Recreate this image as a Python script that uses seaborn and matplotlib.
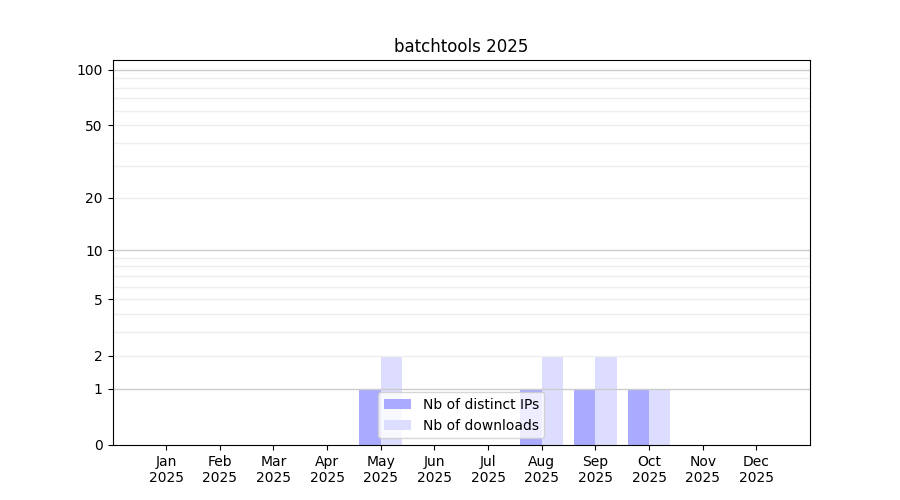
import numpy as np
import pandas as pd
import matplotlib
matplotlib.use("Agg")
import matplotlib.pyplot as plt
from matplotlib.ticker import NullLocator
import seaborn as sns

months = ['Jan', 'Feb', 'Mar', 'Apr', 'May', 'Jun', 'Jul', 'Aug', 'Sep', 'Oct', 'Nov', 'Dec']
year = '2025'
distinct_ips = [0, 0, 0, 0, 1, 0, 0, 1, 1, 1, 0, 0]
downloads = [0, 0, 0, 0, 2, 0, 0, 2, 2, 1, 0, 0]
y_ticks = [0, 1, 2, 5, 10, 20, 50, 100]

labels = [m + '\n' + year for m in months]
df = pd.DataFrame({
    'month': labels * 2,
    'count': distinct_ips + downloads,
    'kind': ['Nb of distinct IPs'] * 12 + ['Nb of downloads'] * 12,
})

fig, ax = plt.subplots(figsize=(9, 5), dpi=100)
sns.barplot(data=df, x='month', y='count', hue='kind',
            palette=['#aaaaff', '#ddddff'], saturation=1, width=0.8, ax=ax)

ax.set_yscale('function', functions=(lambda v: np.log10(1 + np.clip(v, 0, None)),
                                     lambda v: 10 ** v - 1))
ax.set_ylim(0, 113)
ax.set_xlim(-1, 12)
ax.set_yticks(y_ticks)
ax.set_yticklabels([str(t) for t in y_ticks])
ax.yaxis.set_minor_locator(NullLocator())
ax.set_axisbelow(False)
for t in [1, 10, 100]:
    ax.axhline(t, color='#cccccc', lw=1, zorder=3)
for t in [2, 3, 4, 5, 6, 7, 8, 9, 20, 30, 40, 50, 60, 70, 80, 90]:
    ax.axhline(t, color='#eeeeee', lw=1, zorder=3)
for s in ax.spines.values():
    s.set_zorder(4)

ax.set_xlabel('')
ax.set_ylabel('')
ax.set_title('batchtools 2025')
ax.legend(loc='lower center', title=None)

plt.savefig('out.png')
